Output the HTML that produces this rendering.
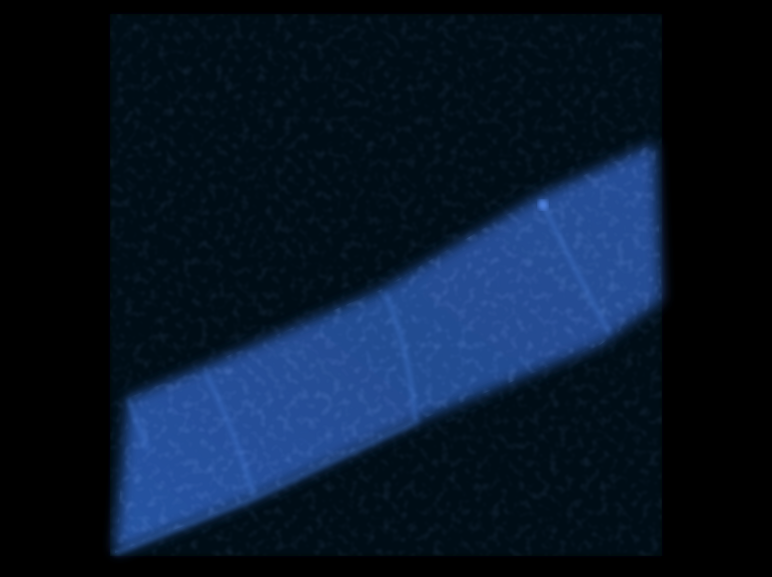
<!DOCTYPE html>
<html><head><meta charset="utf-8">
<style>
html,body{margin:0;padding:0;background:#000;}
svg{display:block;}
</style></head>
<body>
<svg width="772" height="577" viewBox="0 0 772 577" xmlns="http://www.w3.org/2000/svg">
<defs>
  <filter id="blur6" x="-10%" y="-10%" width="120%" height="120%"><feGaussianBlur stdDeviation="7"/></filter>
  <filter id="blur2"><feGaussianBlur stdDeviation="2.5"/></filter>
  <filter id="noise" x="0" y="0" width="100%" height="100%">
    <feTurbulence type="fractalNoise" baseFrequency="0.12" numOctaves="2" seed="3"/>
    <feColorMatrix type="matrix" values="0 0 0 0 0.3  0 0 0 0 0.5  0 0 0 0 1  0 0 0 1.2 -0.6"/>
    <feGaussianBlur stdDeviation="1"/>
  </filter>
  <linearGradient id="bandGrad" x1="0" y1="1" x2="1" y2="0">
    <stop offset="0" stop-color="#2d5cb2"/>
    <stop offset="0.5" stop-color="#28529f"/>
    <stop offset="1" stop-color="#2a55a6"/>
  </linearGradient>
  <clipPath id="cubeClip"><rect x="110" y="14" width="552" height="542"/></clipPath>
  <clipPath id="bandClip"><polygon points="128,398 200,368 380,290 540,195 655,143 662,300 600,345 420,420 250,500 115,553"/></clipPath>
</defs>
<rect width="772" height="577" fill="#000"/>
<rect x="110" y="14" width="552" height="542" fill="#030816" filter="url(#blur2)"/>
<g clip-path="url(#cubeClip)">
  <rect x="110" y="14" width="552" height="542" filter="url(#noise)" opacity="0.22"/>
</g>
<polygon points="128,398 200,368 380,290 540,195 655,143 662,300 600,345 420,420 250,500 115,553" fill="url(#bandGrad)" filter="url(#blur6)" opacity="0.9"/>
<g clip-path="url(#cubeClip)">
  <rect x="110" y="14" width="552" height="542" filter="url(#noise)" clip-path="url(#bandClip)" opacity="0.4"/>
</g>
<g stroke="#4c80d8" stroke-width="5" fill="none" opacity="0.35" filter="url(#blur2)">
  <path d="M205,372 Q235,430 255,500"/>
  <path d="M385,292 Q410,350 415,420"/>
  <path d="M540,198 Q570,260 610,335"/>
  <path d="M128,398 Q140,430 148,450"/>
  <path d="M115,553 L250,500 L420,420"/>
</g>
<circle cx="543" cy="205" r="5" fill="#5a8ef0" opacity="0.8" filter="url(#blur2)"/>
</svg>
</body></html>
